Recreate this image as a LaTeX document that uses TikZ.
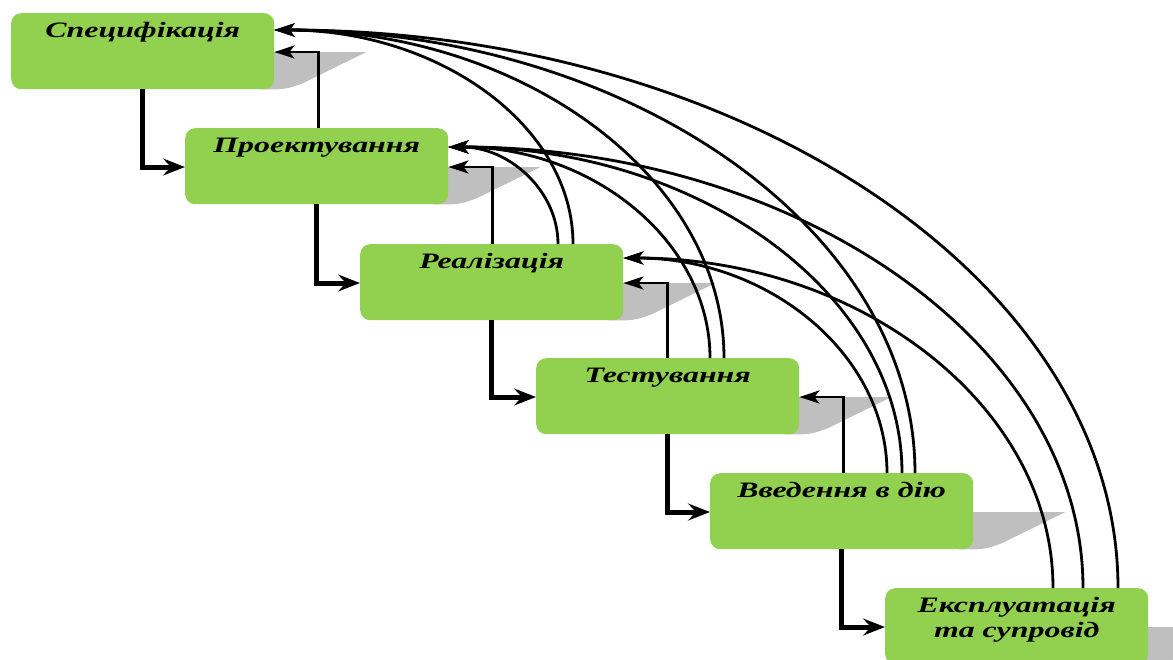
\documentclass[tikz,border=0pt]{standalone}
\usepackage{fontspec}
\newfontfamily\stagefont{Liberation Serif}[FakeStretch=1.45]
\usetikzlibrary{arrows.meta,calc,backgrounds}
\definecolor{stagegreen}{RGB}{146,208,80}
\definecolor{shadowgray}{RGB}{191,191,191}

\begin{document}
\begin{tikzpicture}[x=1pt,y=-1pt,
  stage/.style={fill=stagegreen, rounded corners=10pt, anchor=north west,
    minimum width=263pt, minimum height=76pt, inner xsep=0pt, inner ysep=0pt,
    text height=24pt, text depth=52pt, align=center,
    font=\stagefont\bfseries\itshape\fontsize{22}{25}\selectfont},
  flow/.style={line width=5pt, -{Stealth[length=22pt,width=17pt,inset=8pt]}},
  feedback/.style={line width=2.6pt, -{Stealth[length=20pt,width=13pt,inset=5pt]}},
  backarc/.style={line width=2.8pt, -{Stealth[length=20pt,width=13pt,inset=5pt]}}
]
\useasboundingbox (0,0) rectangle (1173,659);
\clip (0,0) rectangle (1173,659);

% life-cycle stages
\node[stage] (b1) at (11,13)   {Специфікація};
\node[stage] (b2) at (185,128) {Проектування};
\node[stage] (b3) at (360,244) {Реалізація};
\node[stage] (b4) at (536,358) {Тестування};
\node[stage] (b5) at (710,473) {Введення в дію};
\node[stage, text height=49pt, text depth=27pt] (b6) at (885,588) {Експлуатація\\та супровід};

% slanted drop shadows behind the stages
\begin{pgfonlayer}{background}
\foreach \b in {b1,b2,b3,b4,b5,b6} {
  \fill[shadowgray] ($(\b.north east)+(-15,39)$) -- ($(\b.north east)+(92,39)$)
    -- ($(\b.south east)+(28,-6)$)
    .. controls ($(\b.south east)+(14,-1)$) .. ($(\b.south east)+(2,0)$)
    -- ($(\b.south east)+(-15,0)$) -- cycle;
}
\end{pgfonlayer}

% forward flow to the next stage
\foreach \i/\j in {1/2,2/3,3/4,4/5,5/6} {
  \draw[flow] ($(b\i.south west)+(131,0)$) |- ($(b\j.north west)+(0,39)$);
}

% return to the previous stage
\foreach \i/\j in {1/2,2/3,3/4,4/5} {
  \coordinate (f\i) at ($(b\i.north east)+(44,0)$);
  \draw[feedback] (f\i |- b\j.north) |- ($(b\i.north east)+(0,39)$);
}

% long returns to earlier stages (quarter-ellipse arcs)
\foreach \s/\dx/\t/\dy [count=\n] in {3/198/2/19, 3/213/1/17, 4/174/2/19, 4/188/1/17,
    5/177/3/14, 5/192/2/19, 5/205/1/17, 6/168/3/14, 6/198/2/19, 6/233/1/17} {
  \coordinate (s\n) at ($(b\s.north west)+(\dx,0)$);
  \coordinate (e\n) at ($(b\t.north east)+(0,\dy)$);
  \coordinate (k\n) at (s\n |- e\n);
  \draw[backarc] (s\n) .. controls ($(s\n)!0.552!(k\n)$) and ($(e\n)!0.552!(k\n)$) .. (e\n);
}
\end{tikzpicture}
\end{document}
